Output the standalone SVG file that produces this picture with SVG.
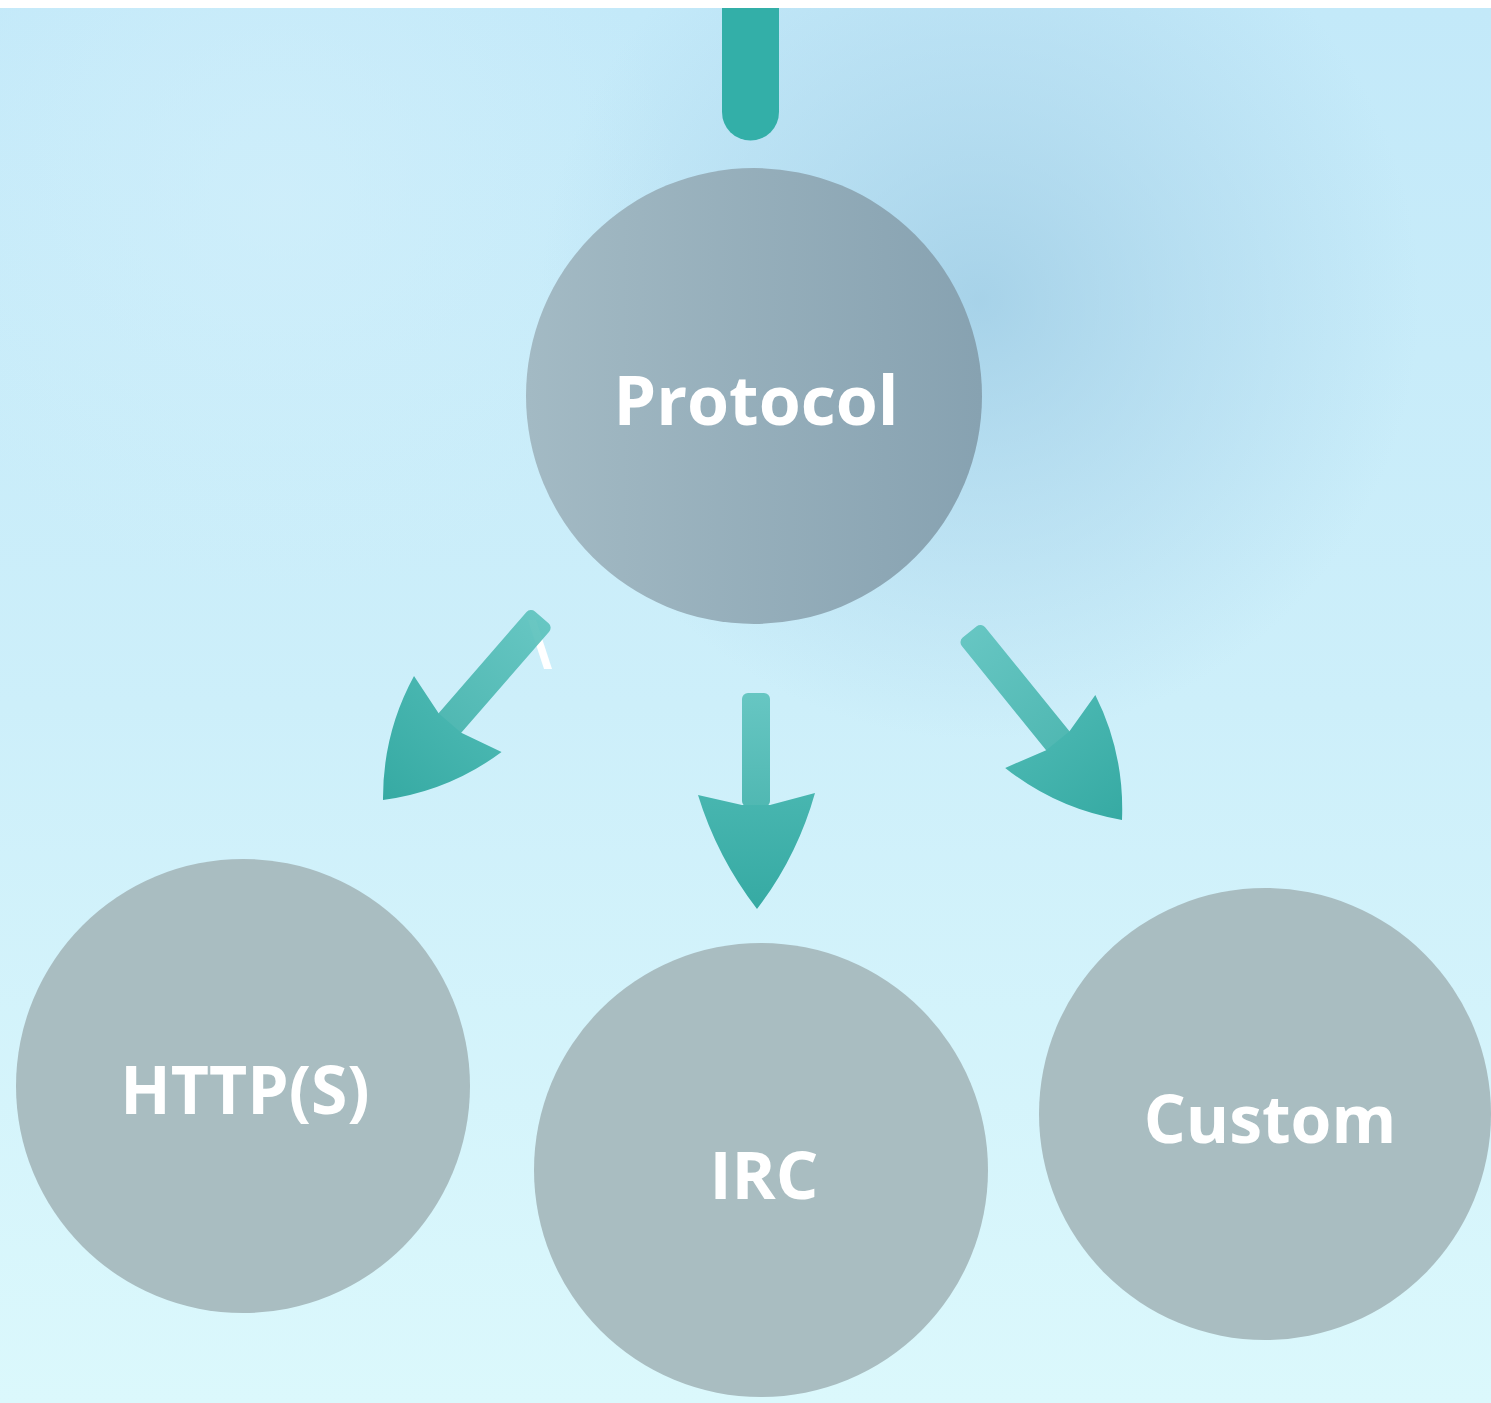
<svg xmlns="http://www.w3.org/2000/svg" width="1491" height="1403" viewBox="0 0 1491 1403">
  <defs>
    <linearGradient id="bg" x1="0" y1="0" x2="0" y2="1">
      <stop offset="0" stop-color="#c3e9f9"/>
      <stop offset="0.5" stop-color="#cdeffa"/>
      <stop offset="1" stop-color="#dbf8fc"/>
    </linearGradient>
    <radialGradient id="blob1" cx="980" cy="300" r="440" gradientUnits="userSpaceOnUse">
      <stop offset="0" stop-color="#9ccae3" stop-opacity="0.75"/>
      <stop offset="0.6" stop-color="#a5d0e8" stop-opacity="0.35"/>
      <stop offset="1" stop-color="#a5d0e8" stop-opacity="0"/>
    </radialGradient>
    <radialGradient id="blob2" cx="280" cy="200" r="400" gradientUnits="userSpaceOnUse">
      <stop offset="0" stop-color="#d3f0fb" stop-opacity="0.6"/>
      <stop offset="1" stop-color="#d3f0fb" stop-opacity="0"/>
    </radialGradient>
    <linearGradient id="protoFill" x1="0" y1="0" x2="1" y2="0">
      <stop offset="0" stop-color="#a3bac4"/>
      <stop offset="1" stop-color="#87a2b1"/>
    </linearGradient>
    <linearGradient id="shaftFill" x1="0" y1="0" x2="0" y2="1">
      <stop offset="0" stop-color="#5ec3be"/>
      <stop offset="1" stop-color="#45b3ac"/>
    </linearGradient>
    <linearGradient id="headFill" x1="0" y1="0" x2="0" y2="1">
      <stop offset="0" stop-color="#48b6b0"/>
      <stop offset="1" stop-color="#36aaa3"/>
    </linearGradient>
    <g id="arrow">
      <rect x="-15" y="-242" width="30" height="146" rx="6" fill="url(#shaftFill)" opacity="0.92"/>
      <path d="M-58,-114 L-15,-102 L15,-102 L58,-114 Q44,-50 0,0 Q-44,-50 -58,-114 Z" fill="url(#headFill)"/>
    </g>
  </defs>
  <style>
    .label { font-family: "Open Sans", "Noto Sans", "Liberation Sans", sans-serif; font-weight: 700; fill: #ffffff; text-anchor: middle; }
    .child { fill: #a9bdc1; }
  </style>

  <rect x="0" y="0" width="1491" height="1403" fill="#ffffff"/>
  <rect x="0" y="8" width="1491" height="1395" fill="url(#bg)"/>
  <rect x="0" y="8" width="1491" height="1395" fill="url(#blob1)"/>
  <rect x="0" y="8" width="1491" height="1395" fill="url(#blob2)"/>

  <g id="connectors">
    <path d="M722,8 L779,8 L779,112 A28.5,28.5 0 0 1 722,112 Z" fill="#33afa8"/>
    <polygon points="528,620 536,620 552,669 544,669" fill="#ffffff"/>
    <g id="arrow-http" transform="translate(383,800) rotate(41)">
      <use href="#arrow"/>
    </g>
    <g id="arrow-irc" transform="translate(757,909)">
      <rect x="-15" y="-216" width="28" height="114" rx="6" fill="url(#shaftFill)" opacity="0.92"/>
      <path d="M-59,-114 L-15,-104 L13,-104 L58,-116 Q40,-52 0,0 Q-40,-52 -59,-114 Z" fill="url(#headFill)"/>
    </g>
    <g id="arrow-custom" transform="translate(1122,820) rotate(-39)">
      <use href="#arrow"/>
    </g>
  </g>

  <g id="node-protocol">
    <circle cx="754" cy="396" r="228" fill="url(#protoFill)"/>
    <text class="label" x="756" y="425" font-size="68">Protocol</text>
  </g>
  <g id="node-http">
    <circle class="child" cx="243" cy="1086" r="227"/>
    <text class="label" x="245" y="1114" font-size="66">HTTP(S)</text>
  </g>
  <g id="node-irc">
    <circle class="child" cx="761" cy="1170" r="227"/>
    <text class="label" x="764" y="1199" font-size="67">IRC</text>
  </g>
  <g id="node-custom">
    <circle class="child" cx="1265" cy="1114" r="226"/>
    <text class="label" x="1270" y="1143" font-size="66">Custom</text>
  </g>
</svg>
